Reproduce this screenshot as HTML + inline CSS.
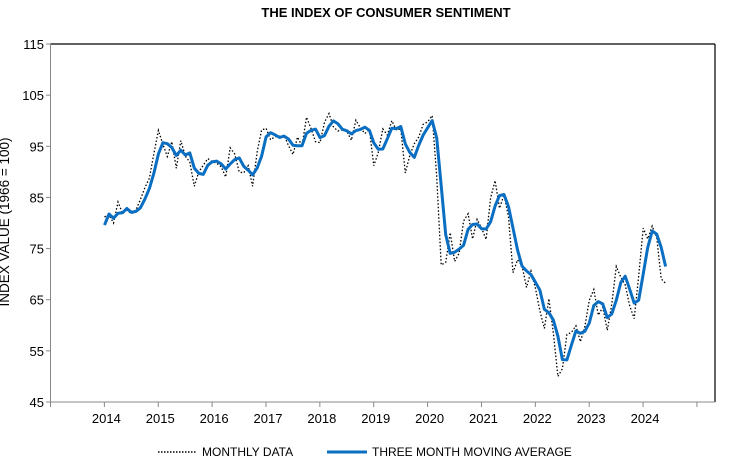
<!DOCTYPE html>
<html><head><meta charset="utf-8"><style>
body{margin:0;background:#fff;}
svg{display:block;font-family:"Liberation Sans",Arial,sans-serif;}
</style></head><body>
<svg id="s" width="745" height="464" viewBox="0 0 745 464">
<text x="386" y="17" text-anchor="middle" font-size="13" font-weight="bold" fill="#000">THE INDEX OF CONSUMER SENTIMENT</text>
<text transform="translate(9,222) rotate(-90)" text-anchor="middle" font-size="13.5" fill="#000">INDEX VALUE (1966 = 100)</text>
<line x1="50.5" y1="44" x2="715" y2="44" stroke="#000" stroke-width="1.2"/>
<line x1="715" y1="44" x2="715" y2="402" stroke="#000" stroke-width="1.2"/>
<line x1="50.5" y1="44" x2="50.5" y2="402" stroke="#888" stroke-width="1"/>
<line x1="50.5" y1="402" x2="715" y2="402" stroke="#888" stroke-width="1"/>
<g id="ax" font-size="13" fill="#000"></g>
<polyline id="mo" fill="none" stroke="#000" stroke-width="1.3" stroke-dasharray="1.5,2"/>
<polyline id="ma" fill="none" stroke="#0a6fc2" stroke-width="3" stroke-linejoin="round"/>
<line x1="158" y1="452" x2="196" y2="452" stroke="#000" stroke-width="1.5" stroke-dasharray="1.5,1.5"/>
<text x="202" y="456" font-size="12" fill="#000">MONTHLY DATA</text>
<line x1="327" y1="452" x2="367" y2="452" stroke="#0a6fc2" stroke-width="3"/>
<text x="372" y="456" font-size="12" fill="#000">THREE MONTH MOVING AVERAGE</text>
</svg>
<script>
var d=[81.2,81.6,80.0,84.1,81.9,82.5,81.8,82.5,84.6,86.9,88.8,93.6,
98.1,95.4,93.0,95.9,90.7,96.1,93.1,91.9,87.2,90.0,91.3,92.6,
92.0,91.7,91.0,89.0,94.7,93.5,90.0,89.8,91.2,87.2,93.8,98.2,
98.5,96.3,96.9,97.0,97.1,95.1,93.4,96.8,95.1,100.7,98.5,95.9,
95.7,99.7,101.4,98.8,98.0,98.2,97.9,96.2,100.1,98.6,97.5,98.3,
91.2,93.8,98.4,97.2,100.0,98.2,98.4,89.8,93.2,95.5,96.8,99.3,
99.8,101.0,89.1,71.8,72.3,78.1,72.5,74.1,80.4,81.8,76.9,80.7,
79.0,76.8,84.9,88.3,82.9,85.5,81.2,70.3,72.8,71.7,67.4,70.6,
67.2,62.8,59.4,65.2,58.4,50.0,51.5,58.2,58.6,59.9,56.8,59.7,
64.9,67.0,62.0,63.5,59.0,64.2,71.5,69.4,67.9,63.8,61.3,69.7,
79.0,76.9,79.4,77.2,69.1,68.2];
var pre=[75.1,82.5];var all=pre.concat(d);
function X(i){return 104.5+i/12*53.87;}
function Y(v){return 402-(v-45)*5.114;}
var a=[],b=[];
for(var i=0;i<d.length;i++){a.push(X(i).toFixed(1)+","+Y(d[i]).toFixed(1));
var m=(all[i]+all[i+1]+all[i+2])/3;b.push(X(i).toFixed(1)+","+Y(m).toFixed(1));}
document.getElementById("mo").setAttribute("points",a.join(" "));
document.getElementById("ma").setAttribute("points",b.join(" "));
var g=document.getElementById("ax"),h="";
for(var v=45;v<=115;v+=10){var y=Y(v);h+='<line x1="46" y1="'+y+'" x2="50.5" y2="'+y+'" stroke="#888"/><text x="44" y="'+(y+5)+'" text-anchor="end">'+v+'</text>';}
for(var k=0;k<=12;k++){var x=50.5+k*53.87;h+='<line x1="'+x+'" y1="402" x2="'+x+'" y2="407" stroke="#888"/>';
if(k>=1&&k<=11)h+='<text x="'+(x+2)+'" y="423" text-anchor="middle">'+(2013+k)+'</text>';}
g.innerHTML=h;
</script>
</body></html>
